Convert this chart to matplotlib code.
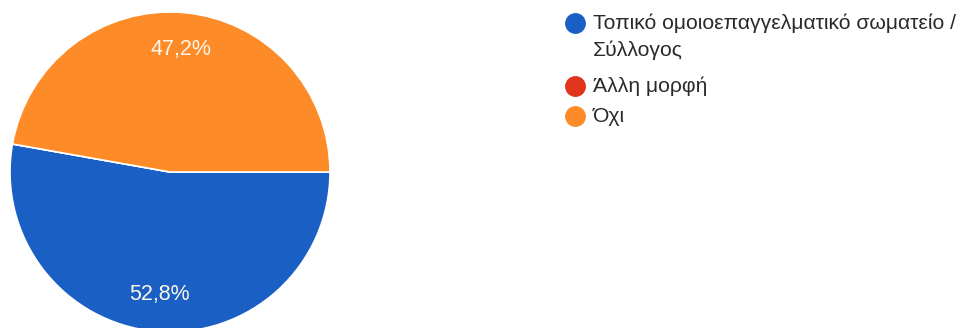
import matplotlib.pyplot as plt
from matplotlib.lines import Line2D

categories = ['Τοπικό ομοιοεπαγγελματικό σωματείο /\nΣύλλογος', 'Άλλη μορφή', 'Όχι']
values = [52.8, 0.0, 47.2]
colors = ['#1a5fc4', '#e0341c', '#fd8b28']

W, H = 966, 328
plt.rcParams['font.family'] = ['Liberation Sans', 'DejaVu Sans']

fig = plt.figure(figsize=(W / 100, H / 100), dpi=100)

# pie: center (170, 172) from top, radius 160 px
cx, cy, r = 170, 172, 160
ax = fig.add_axes([(cx - r) / W, (H - cy - r) / H, 2 * r / W, 2 * r / H])


def pct(p):
    return '' if p < 0.05 else f'{p:.1f}%'.replace('.', ',')


wedges, texts, autotexts = ax.pie(
    values, colors=colors, startangle=0, counterclock=False,
    autopct=pct, pctdistance=0.77, radius=1,
    wedgeprops=dict(edgecolor='white', linewidth=1.2),
    textprops=dict(color='#fdf6ea', fontsize=15.5),
)
ax.set_xlim(-1, 1)
ax.set_ylim(-1, 1)
ax.set_aspect('equal')

# legend drawn by hand, positions in pixels from top-left
rows_y = [23, 86, 116]
circle_x, text_x = 575, 593
for label, color, y in zip(categories, colors, rows_y):
    fig.add_artist(Line2D([circle_x / W], [1 - y / H], marker='o', markersize=14,
                          color=color, linestyle='none', transform=fig.transFigure))
    for i, line in enumerate(label.split('\n')):
        fig.text(text_x / W, 1 - (y + i * 27) / H, line, color='#2a2a2a',
                 fontsize=15.2, ha='left', va='center')

fig.savefig('out.png', dpi=100)
